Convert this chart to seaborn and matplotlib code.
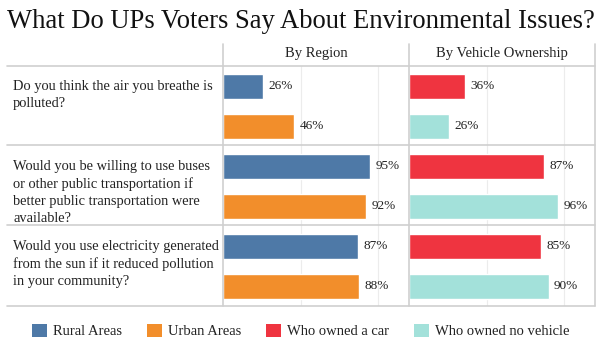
import matplotlib
matplotlib.use("Agg")
import matplotlib.pyplot as plt
import matplotlib.transforms as mtransforms
from matplotlib.lines import Line2D
from matplotlib.patches import Patch
import seaborn as sns
import pandas as pd

# ---- data ----
questions = [
    "Do you think the air you breathe is\npolluted?",
    "Would you be willing to use buses\nor other public transportation if\nbetter public transportation were\navailable?",
    "Would you use electricity generated\nfrom the sun if it reduced pollution\nin your community?",
]
region_groups = ["Rural Areas", "Urban Areas"]
rural = [0.26, 0.95, 0.87]
urban = [0.46, 0.92, 0.88]
vehicle_groups = ["Who owned a car", "Who owned no vehicle"]
car = [0.36, 0.87, 0.85]
no_vehicle = [0.26, 0.96, 0.90]
panel_titles = ["By Region", "By Vehicle Ownership"]
title = "What Do UPs Voters Say About Environmental Issues?"

colors = {"Rural Areas": "#4e79a7", "Urban Areas": "#f28e2b",
          "Who owned a car": "#ef3440", "Who owned no vehicle": "#a3e1da"}

qid = list(range(len(questions)))
df_region = pd.DataFrame({"q": qid * 2, "value": rural + urban,
                          "group": [region_groups[0]] * 3 + [region_groups[1]] * 3})
df_vehicle = pd.DataFrame({"q": qid * 2, "value": car + no_vehicle,
                           "group": [vehicle_groups[0]] * 3 + [vehicle_groups[1]] * 3})

# ---- figure ----
sns.set_theme(style="white")
plt.rcParams["font.family"] = ["Liberation Serif", "DejaVu Serif"]
W, H = 601, 349
fig = plt.figure(figsize=(W / 100, H / 100), dpi=100)

def fx(px):
    return px / W

def fy(py):
    return 1 - py / H

top_px, bot_px = 66, 306
x_label0, x_p1, x_p2, x_end = 7, 223, 409, 595
line_col = "#cfcfcf"

axes = []
for i, (df, groups) in enumerate([(df_region, region_groups), (df_vehicle, vehicle_groups)]):
    x0 = [x_p1, x_p2][i]
    ax = fig.add_axes([fx(x0), fy(bot_px), fx(186), (bot_px - top_px) / H])
    sns.barplot(data=df, x="value", y="q", hue="group", hue_order=groups,
                orient="h", palette=colors, width=1.0, gap=0.375,
                ax=ax, legend=False, saturation=1, errorbar=None, order=qid)
    ax.set_xlim(0, 1.2)
    ax.set_ylim(2.5, -0.5)
    ax.set_xticks([0.5, 1.0])
    ax.grid(axis="x", color="#ececec", linewidth=0.8)
    ax.set_axisbelow(True)
    ax.set_xticklabels([])
    ax.set_yticks([])
    ax.tick_params(length=0)
    ax.set_xlabel("")
    ax.set_ylabel("")
    for s in ax.spines.values():
        s.set_visible(False)
    for c in ax.containers:
        ax.bar_label(c, labels=[f"{v:.0%}" for v in c.datavalues], padding=4,
                     fontsize=9.5, color="#222222")
    fig.text(fx(x0 + 93), fy(54), panel_titles[i], ha="center", va="center",
             fontsize=10.5, color="#222222")
    axes.append(ax)

# question texts
trans = mtransforms.blended_transform_factory(fig.transFigure, axes[0].transData)
for i, q in enumerate(questions):
    axes[0].text(fx(13), i - 0.5 + 0.175, q, transform=trans, ha="left", va="top",
                 fontsize=10.4, color="#222222", linespacing=1.4, clip_on=False)

# table lines
for ypx in [66, 145, 225, 306]:
    fig.add_artist(Line2D([fx(x_label0), fx(x_end)], [fy(ypx), fy(ypx)],
                          color=line_col, linewidth=1.2))
for xpx in [x_p1, x_p2, x_end]:
    fig.add_artist(Line2D([fx(xpx), fx(xpx)], [fy(44), fy(bot_px)],
                          color=line_col, linewidth=1.2))

fig.text(fx(7), fy(21), title, ha="left", va="center", fontsize=19.2, color="#111111")

handles = [Patch(facecolor=colors[g], edgecolor="none") for g in region_groups + vehicle_groups]
fig.legend(handles, region_groups + vehicle_groups, ncol=4, frameon=False,
           loc="center", bbox_to_anchor=(fx(301), fy(331)), fontsize=10.5,
           handlelength=1.0, handleheight=1.0, handletextpad=0.45,
           columnspacing=1.7, labelcolor="#222222")

fig.savefig("out.png", dpi=100)
